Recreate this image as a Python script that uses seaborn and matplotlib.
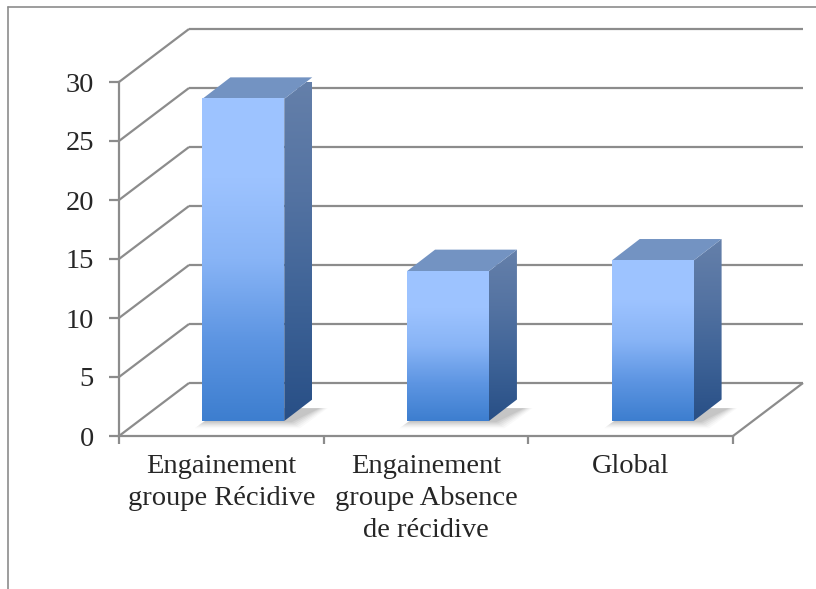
import numpy as np
import pandas as pd
import matplotlib
matplotlib.use("Agg")
import matplotlib.pyplot as plt
import seaborn as sns
from matplotlib.transforms import Affine2D
from matplotlib.patches import Polygon
from matplotlib.lines import Line2D
from matplotlib.colors import LinearSegmentedColormap

# ---- data ----
categories = ["Engainement\ngroupe Récidive",
              "Engainement\ngroupe Absence\nde récidive",
              "Global"]
values = [27.3, 12.7, 13.6]
y_ticks = [0, 5, 10, 15, 20, 25, 30]

sns.set_style("white")
plt.rcParams["font.family"] = ["Liberation Serif", "DejaVu Serif"]

GREY = "#8c8c8c"
W, H = 816, 589
fig = plt.figure(figsize=(W / 100, H / 100), dpi=100)

# front plane of the pseudo-3D box, in pixels
x_left, x_right = 119, 733
y_zero, y_top = 436, 82
ax = fig.add_axes([x_left / W, 1 - y_zero / H,
                   (x_right - x_left) / W, (y_zero - y_top) / H])

n = len(categories)
px_x = (x_right - x_left) / n
px_y = (y_zero - y_top) / (y_ticks[-1] - y_ticks[0])


def ux(p):
    return p / px_x


def uy(p):
    return p / px_y


wall_dx, wall_dy = ux(70), uy(53)      # depth of the back wall
off_x, off_y = ux(22), uy(15)          # bar front face inside the box
dep_x, dep_y = ux(28), uy(21.5)        # bar depth

df = pd.DataFrame({"cat": categories, "val": values})
sns.barplot(data=df, x="cat", y="val", width=0.4, ax=ax, color="#6a9be0",
            saturation=1, linewidth=0, zorder=6)

xmin, xmax = -0.5, n - 0.5
ymin, ymax = y_ticks[0], y_ticks[-1]

# back wall, side wall and floor lines
line_kw = dict(color=GREY, lw=1.6, clip_on=False, zorder=1, solid_capstyle="butt")
for v in y_ticks:
    ax.plot([xmin + wall_dx, xmax + wall_dx], [v + wall_dy] * 2, **line_kw)
    ax.plot([xmin, xmin + wall_dx], [v, v + wall_dy], **line_kw)
ax.plot([xmax, xmax + wall_dx], [ymin, ymin + wall_dy], **line_kw)

front_cmap = LinearSegmentedColormap.from_list(
    "front", ["#3d7ecf", "#5d95e2", "#88b4f6", "#9dc3ff", "#9ec4ff"])
side_cmap = LinearSegmentedColormap.from_list(
    "side", ["#284f86", "#3d6296", "#5473a2", "#6580aa"])
grad = np.linspace(0, 1, 256).reshape(-1, 1)

for patch in list(ax.patches):
    x0 = patch.get_x() + off_x
    w = patch.get_width()
    h = patch.get_height()
    x1 = x0 + w
    b = off_y
    t = b + h

    # soft shadow around the foot of the bar
    for k, a in zip(range(6, 0, -1), [0.03, 0.04, 0.05, 0.06, 0.07, 0.08]):
        ex, ey = ux(k * 1.6), uy(k * 1.2)
        shadow = Polygon([(x0 - ex + ux(2), b - ey),
                          (x1 + ex + ux(6), b - ey),
                          (x1 + dep_x + ex + ux(6), b + dep_y * 0.6),
                          (x0 + dep_x - ex, b + dep_y * 0.6)],
                         closed=True, facecolor="#404040", edgecolor="none",
                         alpha=a, zorder=3, clip_on=False)
        ax.add_patch(shadow)

    # right side face
    side = Polygon([(x1, b), (x1 + dep_x, b + dep_y),
                    (x1 + dep_x, t + dep_y), (x1, t)],
                   closed=True, facecolor="none", edgecolor="none", zorder=5,
                   clip_on=False)
    ax.add_patch(side)
    im = ax.imshow(grad, cmap=side_cmap, origin="lower", aspect="auto",
                   extent=[x1, x1 + dep_x, b, t + dep_y], zorder=5,
                   interpolation="bilinear")
    im.set_clip_path(side)

    # top face
    ax.add_patch(Polygon([(x0, t), (x1, t), (x1 + dep_x, t + dep_y),
                          (x0 + dep_x, t + dep_y)],
                         closed=True, facecolor="#7393c2", edgecolor="none",
                         zorder=6, clip_on=False))

    # front face (seaborn bar moved into the box, gradient painted on it)
    patch.set_transform(Affine2D().translate(off_x, off_y) + ax.transData)
    patch.set_clip_on(False)
    imf = ax.imshow(grad, cmap=front_cmap, origin="lower", aspect="auto",
                    extent=[x0, x1, b, t], zorder=7, interpolation="bilinear")
    imf.set_clip_on(False)

ax.set_xlim(xmin, xmax)
ax.set_ylim(ymin, ymax)
ax.set_xlabel("")
ax.set_ylabel("")

ax.set_yticks(y_ticks)
ax.set_yticklabels([str(v) for v in y_ticks])
ax.set_xticks(np.arange(n + 1) - 0.5, minor=False)
ax.set_xticklabels([""] * (n + 1))
ax.set_xticks(np.arange(n), minor=True)
ax.set_xticklabels(categories, minor=True, linespacing=1.38)

ax.tick_params(axis="y", which="major", length=7, width=1.6, color=GREY,
               pad=11, labelsize=20.5, left=True)
ax.tick_params(axis="x", which="major", length=6, width=1.6, color=GREY,
               bottom=True)
ax.tick_params(axis="x", which="minor", length=0, pad=13, labelsize=20.5)

for s in ["top", "right"]:
    ax.spines[s].set_visible(False)
for s in ["left", "bottom"]:
    ax.spines[s].set_color(GREY)
    ax.spines[s].set_linewidth(1.6)
ax.grid(False)
ax.set_facecolor("none")

# outer chart frame (top and left edges)
fig.add_artist(Line2D([8 / W, 8 / W], [0, 1 - 6.5 / H],
                      transform=fig.transFigure, color=GREY, lw=1.2))
fig.add_artist(Line2D([8 / W, 1], [1 - 6.5 / H, 1 - 6.5 / H],
                      transform=fig.transFigure, color=GREY, lw=1.2))

fig.savefig("out.png", dpi=100)
